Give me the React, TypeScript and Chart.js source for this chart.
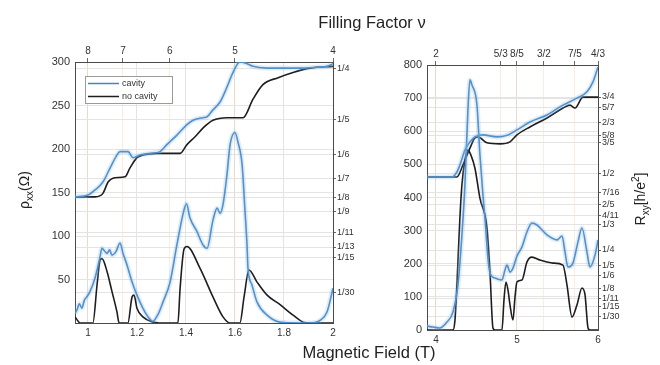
import React, { useEffect, useRef } from 'react';
import { Chart, registerables } from 'chart.js';

Chart.register(...registerables);

const FONT = "'Liberation Sans', Arial, Helvetica, sans-serif";
const BLUE = '#4285c2';
const BLUE_GLOW = 'rgba(130,185,230,0.25)';
const BLACK = '#1e1e1e';
const GRID = '#e4e4e4';
const GRID_TOP = 'rgba(245,200,160,0.35)';
const AXIS = '#4a4a4a';
const TICK = '#333333';

// ---------------- Left panel (B = 0.95 .. 2 T) ----------------
const leftXTicks = [1, 1.2, 1.4, 1.6, 1.8, 2];
const leftYTicks = [50, 100, 150, 200, 250, 300];
const leftNu = [8, 7, 6, 5, 4];
const leftNuLabels = ['8', '7', '6', '5', '4'];
const leftHallLabels = ['1/4', '1/5', '1/6', '1/7', '1/8', '1/9', '1/11', '1/13', '1/15', '1/30'];

// rho_xx, cavity [B, Ohm]
const leftRxxCavity = [
  [0.947, 11], [0.955, 15], [0.965, 22], [0.975, 17], [0.985, 26], [0.995, 30], [1.008, 36],
  [1.029, 52], [1.049, 76], [1.057, 86], [1.067, 83], [1.078, 80], [1.088, 84], [1.098, 78],
  [1.114, 82], [1.131, 92], [1.143, 80], [1.159, 67], [1.18, 47], [1.2, 32], [1.224, 17],
  [1.245, 7], [1.265, 2], [1.286, 10], [1.306, 24], [1.335, 47], [1.363, 90], [1.392, 130],
  [1.402, 137], [1.416, 121], [1.445, 105], [1.469, 90], [1.486, 86], [1.51, 118], [1.527, 132],
  [1.539, 126], [1.551, 136], [1.567, 170], [1.58, 205], [1.6, 219], [1.612, 208], [1.629, 182],
  [1.641, 128], [1.649, 90], [1.653, 63], [1.669, 44], [1.69, 24], [1.731, 9], [1.784, 1],
  [1.865, 0], [1.906, 0], [1.947, 3], [1.976, 13], [2.0, 40],
];
// rho_xx, no cavity
const leftRxxNoCavity = [
  [0.947, 7], [0.96, 2], [0.967, 0], [1.02, 0], [1.037, 44], [1.049, 72], [1.057, 74],
  [1.078, 59], [1.098, 36], [1.118, 13], [1.127, 0], [1.163, 0], [1.18, 30], [1.188, 32],
  [1.2, 17], [1.224, 7], [1.265, 1], [1.29, 0], [1.367, 0], [1.376, 40], [1.392, 85],
  [1.404, 88], [1.457, 63], [1.51, 30], [1.551, 7], [1.58, 0], [1.62, 0], [1.637, 30],
  [1.657, 61], [1.69, 47], [1.731, 32], [1.784, 21], [1.837, 9], [1.878, 1], [1.906, 0], [2.0, 0],
];
// Hall trace (drawn on the left scale), cavity
const leftHallCavity = [
  [0.947, 145], [1.0, 147], [1.029, 153], [1.061, 162], [1.09, 178], [1.118, 193], [1.131, 197],
  [1.163, 197], [1.184, 190], [1.212, 193], [1.253, 195], [1.294, 197], [1.322, 205], [1.363, 216],
  [1.404, 228], [1.429, 233], [1.469, 236], [1.486, 237], [1.51, 245], [1.539, 254], [1.567, 271],
  [1.592, 288], [1.62, 300], [1.641, 299], [1.673, 295], [1.731, 293], [1.796, 293], [1.865, 293],
  [1.935, 294], [1.976, 295], [2.0, 298],
];
// Hall trace, no cavity
const leftHallNoCavity = [
  [0.947, 145], [1.029, 145], [1.061, 149], [1.082, 162], [1.11, 167], [1.151, 168], [1.171, 178],
  [1.2, 190], [1.224, 193], [1.282, 195], [1.376, 195], [1.404, 205], [1.437, 214], [1.469, 224],
  [1.51, 233], [1.567, 236], [1.633, 236], [1.673, 257], [1.714, 274], [1.776, 282], [1.837, 288],
  [1.906, 293], [2.0, 295],
];

// ---------------- Right panel (B = 3.9 .. 6 T) ----------------
const rightXTicks = [4, 5, 6];
const rightYTicks = [0, 100, 200, 300, 400, 500, 600, 700, 800];
const rightNu = [2, 5 / 3, 8 / 5, 3 / 2, 7 / 5, 4 / 3];
const rightNuLabels = ['2', '5/3', '8/5', '3/2', '7/5', '4/3'];
const rightHallLabels = ['3/4', '5/7', '2/3', '5/8', '3/5', '1/2', '7/16', '2/5', '4/11', '1/3',
  '1/4', '1/5', '1/6', '1/8', '1/11', '1/15', '1/30'];

const rightHallCavity = [
  [3.889, 462], [4.198, 462], [4.259, 477], [4.296, 498], [4.358, 543], [4.395, 559], [4.481, 583],
  [4.58, 589], [4.753, 583], [4.889, 589], [5.0, 604], [5.16, 628], [5.37, 649], [5.568, 679],
  [5.741, 700], [5.864, 719], [5.938, 749], [6.0, 794],
];
const rightHallNoCavity = [
  [3.889, 462], [4.259, 462], [4.333, 498], [4.42, 549], [4.481, 580], [4.519, 583], [4.63, 565],
  [4.79, 562], [4.914, 568], [5.0, 589], [5.16, 613], [5.37, 640], [5.568, 670], [5.654, 679],
  [5.716, 670], [5.815, 703], [6.0, 703],
];
const rightRxxCavity = [
  [3.889, 12], [3.963, 9], [4.049, 6], [4.136, 24], [4.21, 54], [4.272, 136], [4.321, 287],
  [4.358, 438], [4.395, 664], [4.42, 755], [4.444, 740], [4.506, 680], [4.543, 529], [4.58, 408],
  [4.605, 338], [4.642, 217], [4.667, 172], [4.728, 157], [4.815, 151], [4.852, 181], [4.877, 196],
  [4.914, 175], [4.951, 187], [5.0, 223], [5.062, 251], [5.123, 296], [5.185, 323], [5.247, 317],
  [5.37, 287], [5.494, 272], [5.556, 284], [5.593, 235], [5.63, 190], [5.691, 202], [5.753, 266],
  [5.802, 308], [5.864, 235], [5.901, 190], [5.963, 226], [6.0, 272],
];
const rightRxxNoCavity = [
  [3.889, 0], [4.21, 0], [4.235, 30], [4.259, 136], [4.296, 338], [4.321, 438], [4.358, 513],
  [4.395, 543], [4.432, 528], [4.481, 489], [4.543, 398], [4.63, 308], [4.667, 175], [4.704, 6],
  [4.728, 0], [4.815, 0], [4.84, 91], [4.864, 145], [4.889, 121], [4.914, 76], [4.951, 30],
  [4.975, 97], [5.0, 145], [5.062, 151], [5.123, 205], [5.185, 220], [5.284, 211], [5.444, 202],
  [5.568, 196], [5.617, 136], [5.679, 39], [5.741, 76], [5.802, 127], [5.84, 106], [5.877, 6],
  [5.9, 0], [6.0, 0],
];

const legendLabels = ['cavity', 'no cavity'];

// ---------------- helpers ----------------
const frac = (s: string) => {
  const [n, d] = s.split('/').map(Number);
  return n / d;
};
const NU_B = 8; // nu * B product (nu = 4 at 2 T)

const fixedTicks = (values: number[]) => (scale: any) => {
  scale.ticks = values.map((v) => ({ value: v }));
};
const labelFor = (values: number[], labels: string[]) => (value: number) => {
  let best = 0;
  for (let i = 1; i < values.length; i++) {
    if (Math.abs(values[i] - value) < Math.abs(values[best] - value)) best = i;
  }
  return labels[best];
};
const fixW = (w: number) => (scale: any) => { scale.width = w; };
const fixH = (h: number) => (scale: any) => { scale.height = h; };

const line = (pts: number[][], color: string, width: number) => ({
  data: pts.map(([x, y]) => ({ x, y })),
  borderColor: color,
  backgroundColor: color,
  borderWidth: width,
  pointRadius: 0,
  fill: false,
  cubicInterpolationMode: 'monotone',
  xAxisID: 'x',
  yAxisID: 'y',
});

type Part = { t: string; sub?: boolean; sup?: boolean };
const drawRich = (ctx: CanvasRenderingContext2D, parts: Part[], cx: number, cy: number, size: number, rotate: boolean) => {
  const small = Math.round(size * 0.68);
  const fontOf = (p: Part) => `${p.sub || p.sup ? small : size}px ${FONT}`;
  let total = 0;
  const widths = parts.map((p) => {
    ctx.font = fontOf(p);
    const w = ctx.measureText(p.t).width;
    total += w;
    return w;
  });
  ctx.save();
  ctx.translate(cx, cy);
  if (rotate) ctx.rotate(-Math.PI / 2);
  ctx.fillStyle = '#222';
  ctx.textBaseline = 'alphabetic';
  ctx.textAlign = 'left';
  let x = -total / 2;
  const base = size * 0.36;
  parts.forEach((p, i) => {
    ctx.font = fontOf(p);
    const dy = p.sub ? size * 0.28 : p.sup ? -size * 0.42 : 0;
    ctx.fillText(p.t, x, base + dy);
    x += widths[i];
  });
  ctx.restore();
};

const tickFont = (size: number) => ({ family: FONT, size });

const panelScales = (o: {
  xmin: number; xmax: number; xTicks: number[]; xLabel: (v: number) => string;
  nuB: number[]; nuLabels: string[];
  ymin: number; ymax: number; yTicks: number[];
  y2min: number; y2max: number; y2Labels: string[];
  leftW: number; rightW: number; topH: number; bottomH: number;
}) => {
  const y2Vals = o.y2Labels.map(frac);
  return {
    x: {
      type: 'linear', position: 'bottom', min: o.xmin, max: o.xmax,
      afterBuildTicks: fixedTicks(o.xTicks), afterFit: fixH(o.bottomH),
      ticks: { callback: (v: number) => o.xLabel(v), font: tickFont(10), color: TICK, padding: 4, autoSkip: false, maxRotation: 0, minRotation: 0 },
      grid: { color: GRID, drawTicks: false },
      border: { color: AXIS, width: 1 },
    },
    x2: {
      type: 'linear', position: 'top', min: o.xmin, max: o.xmax,
      afterBuildTicks: fixedTicks(o.nuB), afterFit: fixH(o.topH),
      ticks: { callback: labelFor(o.nuB, o.nuLabels), font: tickFont(10), color: TICK, padding: 1, autoSkip: false, maxRotation: 0, minRotation: 0 },
      grid: { color: GRID_TOP, drawTicks: true, tickLength: 4, tickColor: '#666' },
      border: { color: AXIS, width: 1 },
    },
    y: {
      type: 'linear', position: 'left', min: o.ymin, max: o.ymax,
      afterBuildTicks: fixedTicks(o.yTicks), afterFit: fixW(o.leftW),
      ticks: { font: tickFont(11), color: TICK, padding: 5, autoSkip: false },
      grid: { color: GRID, drawTicks: false },
      border: { color: AXIS, width: 1 },
    },
    y2: {
      type: 'linear', position: 'right', min: o.y2min, max: o.y2max,
      afterBuildTicks: fixedTicks(y2Vals), afterFit: fixW(o.rightW),
      ticks: { callback: labelFor(y2Vals, o.y2Labels), font: tickFont(9), color: TICK, padding: 1, autoSkip: false },
      grid: { color: GRID, drawTicks: true, tickLength: 3, tickColor: '#666' },
      border: { color: AXIS, width: 1 },
    },
  };
};

const textPluginA = {
  id: 'textA',
  afterDraw(chart: any) {
    const ctx = chart.ctx as CanvasRenderingContext2D;
    drawRich(ctx, [{ t: 'Filling Factor ν' }], 372, 22, 16.5, false);
    drawRich(ctx, [{ t: 'Magnetic Field (T)' }], 369, 352, 16.5, false);
    drawRich(ctx, [{ t: 'ρ' }, { t: 'xx', sub: true }, { t: '(Ω)' }], 24, 190, 14, true);
    // legend box
    ctx.save();
    ctx.fillStyle = '#ffffff';
    ctx.strokeStyle = '#9a9a9a';
    ctx.lineWidth = 1;
    ctx.fillRect(85.5, 76.5, 87, 27);
    ctx.strokeRect(85.5, 76.5, 87, 27);
    const colors = [BLUE, BLACK];
    legendLabels.forEach((lab, i) => {
      const y = 83.5 + i * 13;
      ctx.strokeStyle = colors[i];
      ctx.lineWidth = 1.5;
      ctx.beginPath();
      ctx.moveTo(88, y);
      ctx.lineTo(119, y);
      ctx.stroke();
      ctx.fillStyle = '#333';
      ctx.font = `9px ${FONT}`;
      ctx.textBaseline = 'middle';
      ctx.textAlign = 'left';
      ctx.fillText(lab, 122, y);
    });
    ctx.restore();
  },
};

const textPluginB = {
  id: 'textB',
  afterDraw(chart: any) {
    const ctx = chart.ctx as CanvasRenderingContext2D;
    drawRich(ctx, [{ t: 'R' }, { t: 'xy', sub: true }, { t: '[h/e' }, { t: '2', sup: true }, { t: ']' }], 640, 199, 14, true);
  },
};

const fmtLeftX = (v: number) => (Math.abs(v - Math.round(v)) < 1e-6 ? String(Math.round(v)) : v.toFixed(1));

export default function App() {
  const refA = useRef<HTMLCanvasElement>(null);
  const refB = useRef<HTMLCanvasElement>(null);

  useEffect(() => {
    const common = {
      animation: false,
      responsive: false,
      devicePixelRatio: 1,
      events: [],
      plugins: { legend: { display: false }, tooltip: { enabled: false }, title: { display: false } },
    };
    // Left: chartArea x 75..333, y 62..323
    const a = new Chart(refA.current as HTMLCanvasElement, {
      type: 'line',
      data: {
        datasets: [
          line(leftRxxCavity, BLUE_GLOW, 5),
          line(leftHallCavity, BLUE_GLOW, 5),
          line(leftRxxCavity, BLUE, 1.6),
          line(leftHallCavity, BLUE, 1.6),
          line(leftRxxNoCavity, BLACK, 1.6),
          line(leftHallNoCavity, BLACK, 1.6),
        ] as any,
      },
      options: {
        ...common,
        layout: { padding: { left: 0, right: 297, top: 0, bottom: 17 } },
        scales: panelScales({
          xmin: 0.947, xmax: 2, xTicks: leftXTicks, xLabel: fmtLeftX,
          nuB: leftNu.map((n) => NU_B / n), nuLabels: leftNuLabels,
          ymin: 0, ymax: 300, yTicks: leftYTicks,
          y2min: 0.0034, y2max: 0.2559, y2Labels: leftHallLabels,
          leftW: 75, rightW: 30, topH: 62, bottomH: 25,
        }),
      } as any,
      plugins: [textPluginA],
    });
    // Right: chartArea x 427..598, y 65..330
    const b = new Chart(refB.current as HTMLCanvasElement, {
      type: 'line',
      data: {
        datasets: [
          line(rightRxxCavity, BLUE_GLOW, 5),
          line(rightHallCavity, BLUE_GLOW, 5),
          line(rightRxxCavity, BLUE, 1.6),
          line(rightHallCavity, BLUE, 1.6),
          line(rightRxxNoCavity, BLACK, 1.6),
          line(rightHallNoCavity, BLACK, 1.6),
        ] as any,
      },
      options: {
        ...common,
        layout: { padding: { left: 0, right: 32, top: 0, bottom: 15 } },
        scales: panelScales({
          xmin: 3.89, xmax: 6, xTicks: rightXTicks, xLabel: (v: number) => String(Math.round(v)),
          nuB: rightNu.map((n) => NU_B / n), nuLabels: rightNuLabels,
          ymin: 0, ymax: 800, yTicks: rightYTicks,
          y2min: -0.0114, y2max: 0.8546, y2Labels: rightHallLabels,
          leftW: 427, rightW: 30, topH: 65, bottomH: 20,
        }),
      } as any,
      plugins: [textPluginB],
    });
    return () => {
      a.destroy();
      b.destroy();
    };
  }, []);

  return (
    <div style={{ position: 'absolute', left: 0, top: 0, width: 660, height: 365, background: '#ffffff', overflow: 'hidden' }}>
      <canvas ref={refA} width={660} height={365} style={{ position: 'absolute', left: 0, top: 0 }} />
      <canvas ref={refB} width={660} height={365} style={{ position: 'absolute', left: 0, top: 0 }} />
    </div>
  );
}
